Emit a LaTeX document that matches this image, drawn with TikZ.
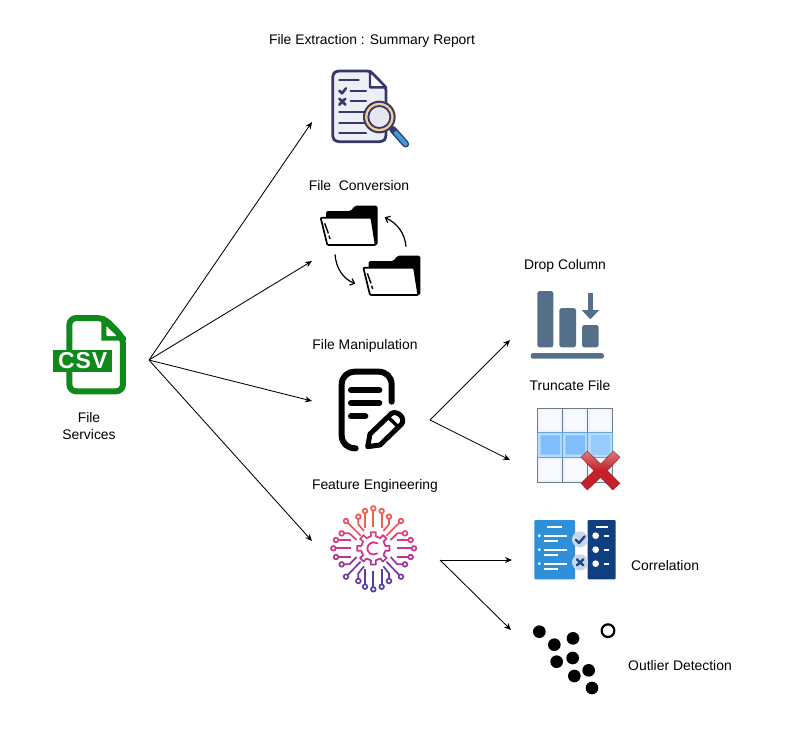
\documentclass[tikz,border=0pt]{standalone}
\usepackage{fontspec}
\setmainfont{Liberation Sans}
\usetikzlibrary{arrows.meta,calc}
\definecolor{csvgreen}{HTML}{0F8A1A}
\definecolor{navy}{HTML}{38386A}
\definecolor{paper}{HTML}{EDEFF5}
\definecolor{gold}{HTML}{F3CE8C}
\definecolor{lens}{HTML}{E6E8F0}
\definecolor{glassblue}{HTML}{3E9BD9}
\definecolor{slatebar}{HTML}{566F89}
\definecolor{gridgray}{HTML}{6F7B86}
\definecolor{palecell}{HTML}{EDF3FA}
\definecolor{bluecell}{HTML}{7FBEFA}
\definecolor{blueline}{HTML}{5FA6E6}
\definecolor{crossred}{HTML}{C4202A}
\definecolor{crosslight}{HTML}{D97B7B}
\definecolor{panelblue}{HTML}{2F8FD9}
\definecolor{paneldark}{HTML}{0F3F80}
\definecolor{badge}{HTML}{C9D8E8}
\definecolor{badgeink}{HTML}{1F4C86}
\definecolor{rayred}{HTML}{F4614A}
\definecolor{raymag}{HTML}{D4308C}
\definecolor{raypur}{HTML}{4F3FA8}
\tikzset{
  lbl/.style={font=\fontsize{13.9}{16}\selectfont,text=black,inner sep=0pt,align=center},
  conn/.style={draw=black,line width=0.85pt,-{Stealth[length=7pt,width=6pt]}},
  zoomed/.style={x=0.3333pt,y=-0.3333pt},
}
% colour along the vertical gradient of the gear icon
\newcommand{\setraycolor}[1]{%
  \pgfmathtruncatemacro{\rp}{min(100,max(0,abs(#1-160)/1.2))}%
  \pgfmathparse{#1<160 ? 1 : 0}%
  \ifnum\pgfmathresult=1 \colorlet{raynow}{rayred!\rp!raymag}\else\colorlet{raynow}{raypur!\rp!raymag}\fi}
% one ray: end-circle position, then path on from it
\newcommand{\ray}[6]{%
  \setraycolor{#2}%
  \draw[raynow,line width=1.7pt,line join=round,fill=none] (#1,#2) circle[radius=7];
  \draw[raynow,line width=1.7pt,line join=round] (#3,#4) -- (#5,#6);}
\newcommand{\bentray}[8]{%
  \setraycolor{#2}%
  \draw[raynow,line width=1.7pt,fill=none] (#1,#2) circle[radius=7];
  \draw[raynow,line width=1.7pt,line join=round] (#3,#4) -- (#5,#6) -- (#7,#8);}
\newcommand{\folderimg}{%
  \fill[black,rounded corners=1.5pt] (48,75) -- (48,48) -- (122,48) -- (135,32) -- (203,32) -- (203,150) -- (120,150) -- cycle;
  \draw[black,fill=white,line width=1.7pt,line join=round,rounded corners=1pt] (32,68) -- (184,68) -- (197,150) -- (52,150) -- cycle;
  \draw[black,line width=1.4pt] (44,85) -- (55,115);
  \draw[black,line width=1.4pt] (57,122) -- (60,132);}
\begin{document}
\begin{tikzpicture}[x=1pt,y=-1pt]
\useasboundingbox (0,0) rectangle (810,740);
\fill[white] (0,0) rectangle (810,740);

% ---- labels
\node[lbl] (lblsum) at (372,41) {File Extraction : Summary Report};
\node[lbl] (lblconv) at (359,186) {File\ \ Conversion};
\node[lbl] (lblman) at (365,346) {File Manipulation};
\node[lbl] (lblfeat) at (375,486) {Feature Engineering};
\node[lbl] (lbldrop) at (565,266) {Drop Column};
\node[lbl] (lbltrunc) at (570,386) {Truncate File};
\node[lbl] (lblcorr) at (665,566) {Correlation};
\node[lbl] (lbloutl) at (680,666) {Outlier Detection};
\node[lbl,font=\fontsize{13.9}{17}\selectfont] (lblfile) at (89,426) {File\\Services};

% ---- connector anchors
\coordinate (hub) at (149,360);
\coordinate (sumicon) at (312,122);
\coordinate (convicon) at (312,261);
\coordinate (manicon) at (312,401);
\coordinate (featicon) at (312,541);
\coordinate (manout) at (430,420);
\coordinate (dropicon) at (510,340);
\coordinate (truncicon) at (510,460);
\coordinate (featout) at (440,560);
\coordinate (corricon) at (512,560);
\coordinate (outlicon) at (511,630);
\draw[conn] (hub) -- (sumicon);
\draw[conn] (hub) -- (convicon);
\draw[conn] (hub) -- (manicon);
\draw[conn] (hub) -- (featicon);
\draw[conn] (manout) -- (dropicon);
\draw[conn] (manout) -- (truncicon);
\draw[conn] (featout) -- (corricon);
\draw[conn] (featout) -- (outlicon);

% ---- CSV icon
\begin{scope}[shift={(30,300)},zoomed]
  \draw[csvgreen,line width=6pt,line join=round,rounded corners=7pt]
    (118,150) -- (118,54) -- (222,54) -- (279,112) -- (279,274) -- (118,274) -- (118,215);
  \fill[csvgreen] (214,48) -- (222,48) -- (288,112) -- (288,122) -- (214,122) -- cycle;
  \fill[white,rounded corners=1pt] (229,78) -- (229,108) -- (260,108) -- cycle;
  \fill[csvgreen] (70,149) rectangle (245,215);
  \node[font=\bfseries\fontsize{23}{23}\selectfont,text=white,inner sep=0pt] (csvtxt) at (158,182) {C\kern1pt S\kern1pt V};
\end{scope}

% ---- Summary report icon
\begin{scope}[shift={(310,60)},zoomed]
  \draw[navy,line width=2.8pt,fill=paper,line join=round,rounded corners=3pt]
    (180,33) -- (78,33) -- (68,43) -- (68,235) -- (78,245) -- (218,245) -- (228,235) -- (228,82) -- cycle;
  \draw[navy,line width=2.4pt,fill=white,line join=round] (180,33) -- (180,82) -- (228,82) -- cycle;
  \draw[navy,line width=2.3pt,line cap=round]
    (88,60) -- (146,60) (122,92) -- (168,92) (122,124) -- (168,124)
    (88,156) -- (168,156) (88,188) -- (168,188) (88,219) -- (168,219);
  \draw[navy,line width=2.6pt,line cap=round,line join=round] (88,92) -- (96,100) -- (108,85);
  \draw[navy,line width=2.6pt,line cap=round] (88,116) -- (106,134) (106,116) -- (88,134);
  \draw[navy,line width=7pt,line cap=round] (248,208) -- (287,252);
  \draw[glassblue,line width=4.2pt,line cap=round] (258,219) -- (287,252);
  \draw[navy,line width=2pt,fill=gold] (208,171) circle[radius=46];
  \draw[navy,line width=1.8pt,fill=lens] (208,171) circle[radius=33];
\end{scope}

% ---- File conversion icon
\begin{scope}[shift={(310,195)},zoomed]
  \folderimg
  \begin{scope}[shift={(128,150)}]
    \folderimg
  \end{scope}
  \draw[black,line width=1.2pt,-{Straight Barb[length=4pt,width=7pt]}] (288,155) .. controls (285,115) and (262,85) .. (224,67);
  \draw[black,line width=1.2pt,-{Straight Barb[length=4pt,width=7pt]}] (75,178) .. controls (78,220) and (100,252) .. (136,266);
\end{scope}

% ---- File manipulation icon
\begin{scope}[shift={(320,360)},zoomed]
  \draw[black,line width=6pt,line cap=round,line join=round]
    (215,125) -- (215,75) .. controls (215,50) and (198,35) .. (175,35) -- (105,35)
    .. controls (82,35) and (65,50) .. (65,75) -- (65,225) .. controls (65,250) and (82,265) .. (107,265);
  \draw[black,line width=6pt,line cap=round] (93,90) -- (178,90) (93,129) -- (178,129) (93,169) -- (136,169);
  \draw[black,line width=5pt,line join=round,line cap=round]
    (143,260) -- (150,222) -- (215,160) .. controls (232,150) and (258,175) .. (245,192) -- (180,255) -- cycle;
  \draw[black,line width=3.4pt] (205,172) -- (232,198);
\end{scope}

% ---- Feature engineering icon
\begin{scope}[shift={(320,495)},zoomed]
  \ray{160}{40}{160}{47}{160}{95}
  \ray{135}{48}{135}{55}{135}{100}
  \ray{185}{48}{185}{55}{185}{100}
  \bentray{115}{65}{115}{72}{115}{88}{132}{108}
  \bentray{207}{65}{207}{72}{207}{88}{190}{108}
  \ray{78}{78}{83}{83}{122}{122}
  \ray{243}{78}{238}{83}{199}{122}
  \bentray{65}{115}{72}{115}{88}{115}{110}{135}
  \bentray{255}{115}{248}{115}{232}{115}{212}{135}
  \ray{48}{135}{55}{135}{92}{135}
  \ray{272}{135}{265}{135}{230}{135}
  \ray{40}{160}{47}{160}{92}{160}
  \ray{282}{160}{275}{160}{230}{160}
  \ray{48}{186}{55}{186}{92}{186}
  \ray{272}{186}{265}{186}{230}{186}
  \bentray{65}{208}{72}{208}{88}{208}{110}{186}
  \bentray{255}{208}{248}{208}{232}{208}{212}{186}
  \ray{78}{245}{83}{240}{122}{200}
  \ray{243}{245}{238}{240}{199}{200}
  \bentray{115}{258}{115}{251}{115}{235}{132}{214}
  \bentray{207}{258}{207}{251}{207}{235}{190}{214}
  \ray{135}{275}{135}{268}{135}{222}
  \ray{185}{275}{185}{268}{185}{222}
  \ray{160}{283}{160}{276}{160}{228}
  % gear outline, segment by segment
  \foreach \t in {0,45,...,315}{
    \pgfmathsetmacro{\ya}{160-sin(\t-22.5)*36}
    \setraycolor{\ya}
    \draw[raynow,line width=1.7pt,line join=round,line cap=round]
      ($(160,160)+({cos(\t-22.5)*36},{-sin(\t-22.5)*36})$) --
      ($(160,160)+({cos(\t-11)*37},{-sin(\t-11)*37})$) --
      ($(160,160)+({cos(\t-9)*49},{-sin(\t-9)*49})$) --
      ($(160,160)+({cos(\t+9)*49},{-sin(\t+9)*49})$) --
      ($(160,160)+({cos(\t+11)*37},{-sin(\t+11)*37})$) --
      ($(160,160)+({cos(\t+22.5)*36},{-sin(\t+22.5)*36})$);
  }
  \setraycolor{160}
  \draw[raynow,line width=1.7pt,line cap=round] (172,145) .. controls (155,135) and (142,150) .. (142,160) .. controls (142,172) and (155,185) .. (172,175);
\end{scope}

% ---- Drop column icon
\begin{scope}[shift={(520,280)},zoomed]
  \fill[slatebar,rounded corners=2.5pt] (52,33) rectangle (100,202);
  \fill[slatebar,rounded corners=2.5pt] (118,84) rectangle (168,202);
  \fill[slatebar,rounded corners=2.5pt] (186,135) rectangle (236,202);
  \fill[slatebar,rounded corners=2.5pt] (32,219) rectangle (252,236);
  \fill[slatebar] (203,40) rectangle (219,90);
  \fill[slatebar] (185,90) -- (238,90) -- (211,118) -- cycle;
\end{scope}

% ---- Truncate file icon
\begin{scope}[shift={(525,400)},zoomed]
  \fill[palecell] (38,25) rectangle (263,247);
  \fill[white!60!palecell] (46,32) rectangle (106,91) (121,32) rectangle (181,91) (196,32) rectangle (256,91)
       (46,180) rectangle (106,240) (121,180) rectangle (181,240) (196,180) rectangle (256,240);
  \fill[white!45!bluecell] (38,98) rectangle (263,172);
  \fill[bluecell] (47,106) rectangle (105,164) (122,106) rectangle (180,164);
  \fill[bluecell!80!white] (197,106) rectangle (255,164);
  \draw[gridgray,line width=1.5pt] (38,25) rectangle (263,247)
     (113,25) -- (113,98) (188,25) -- (188,98) (113,172) -- (113,247) (188,172) -- (188,247)
     (38,98) -- (38,172) (263,98) -- (263,172);
  \draw[blueline,line width=1.5pt] (38,98) rectangle (263,172) (113,98) -- (113,172) (188,98) -- (188,172);
  \shade[top color=crosslight,bottom color=crossred,middle color=crossred,draw=crossred!80!black,line width=0.4pt,line join=round]
    (187,153) -- (227,192) -- (265,153) -- (285,172) -- (247,212) -- (285,250) -- (263,270)
    -- (227,232) -- (187,270) -- (168,250) -- (207,212) -- (168,172) -- cycle;
\end{scope}

% ---- Correlation icon
\begin{scope}[shift={(525,510)},zoomed]
  \fill[panelblue,rounded corners=1pt] (28,30) rectangle (150,208);
  \fill[paneldark,rounded corners=1pt] (188,30) rectangle (272,208);
  \draw[white,line width=2.2pt] (67,51) -- (112,51) (212,51) -- (250,51);
  \foreach \yy in {77,119,161}{
    \fill[white] (43,\yy) circle[radius=5];
    \draw[white,line width=2pt] (58,\yy) -- (125,\yy) (58,\yy+16) -- (98,\yy+16);
    \fill[white] (212,\yy) circle[radius=10];
    \draw[white,line width=2.2pt] (236,\yy) -- (251,\yy);
  }
  \fill[badge] (165,88) circle[radius=24];
  \fill[badge] (165,157) circle[radius=24];
  \draw[badgeink,line width=2.4pt,line cap=round,line join=round] (152,89) -- (162,99) -- (179,79);
  \draw[badgeink,line width=2.4pt,line cap=round] (156,148) -- (175,166) (175,148) -- (156,166);
\end{scope}

% ---- Outlier detection icon
\begin{scope}[shift={(525,615)},zoomed]
  \foreach \px/\py in {43/50,88/89,144/70,95/140,143/129,148/183,191/166,201/219}
    \fill[black] (\px,\py) circle[radius=19];
  \draw[black,line width=2.2pt,fill=white] (249,47) circle[radius=19];
\end{scope}
\end{tikzpicture}
\end{document}
